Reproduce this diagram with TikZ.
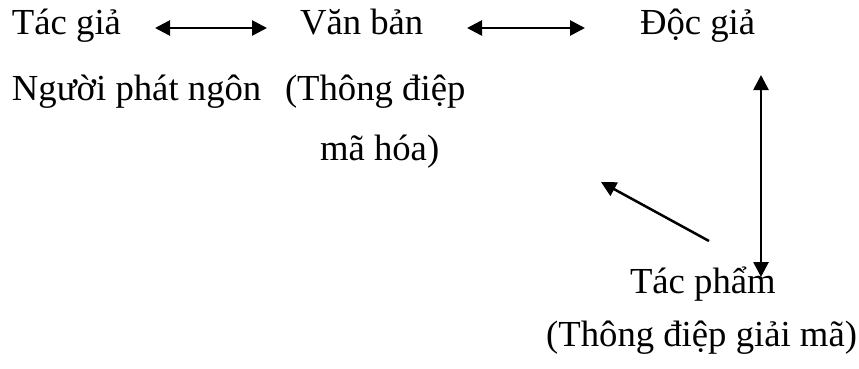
\documentclass[tikz,border=0pt]{standalone}
\usepackage{fontspec}
\setmainfont{Liberation Serif}
\usetikzlibrary{arrows.meta}
\tikzset{
  lbl/.style={inner sep=0pt, outer sep=0pt, font=\fontsize{36.7}{44}\selectfont},
  link/.style={line width=2.7pt, {Triangle[length=15pt,width=15pt]}-{Triangle[length=15pt,width=15pt]}},
  onelink/.style={line width=2.5pt, -{Triangle[length=15pt,width=15pt]}},
}
\begin{document}
\begin{tikzpicture}[x=1pt, y=-1pt]
  \useasboundingbox (0,0) rectangle (859,369);
  % labels
  \node[lbl, anchor=base west] (tacgia)   at (12,35)   {Tác giả};
  \node[lbl, anchor=base west] (vanban)   at (300,35)  {Văn bản};
  \node[lbl, anchor=base west] (docgia)   at (640,35)  {Độc giả};
  \node[lbl, anchor=base west] (nguoi)    at (12,100)  {Người phát ngôn};
  \node[lbl, anchor=base west] (thongdiep) at (285,100) {(Thông điệp};
  \node[lbl, anchor=base west] (mahoa)    at (320,160) {mã hóa)};
  \node[lbl, anchor=base west] (tacpham)  at (630,293) {Tác phẩm};
  \node[lbl, anchor=base east] (giaima)   at (857,346) {(Thông điệp giải mã)};
  % connector ends
  \coordinate (tgR) at (155,28);
  \coordinate (vbL) at (267,28);
  \coordinate (vbR) at (467,28);
  \coordinate (dgL) at (585,28);
  \coordinate (dgB) at (761,75);
  \coordinate (tpT) at (761,277);
  \coordinate (tpS) at (709,241);
  \coordinate (mhE) at (601,182);
  % connectors
  \draw[link] (tgR) -- (vbL);
  \draw[link] (vbR) -- (dgL);
  \draw[link] (dgB) -- (tpT);
  \draw[onelink] (tpS) -- (mhE);
\end{tikzpicture}
\end{document}
